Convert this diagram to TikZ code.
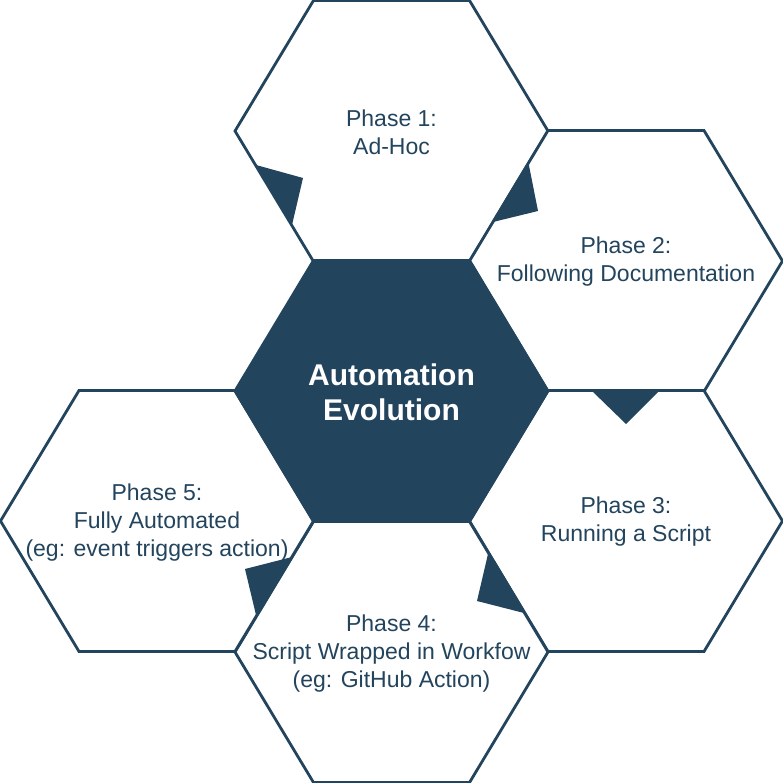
\documentclass[tikz,border=0pt]{standalone}
\usepackage{fontspec}
\setmainfont{Liberation Sans}
\definecolor{dk}{HTML}{23445D}
\tikzset{
  hexline/.style={draw=dk, line width=2.8pt, line join=miter, fill=white},
  hexdark/.style={draw=dk, line width=2.8pt, line join=miter, fill=dk},
  phasetext/.style={text=dk, align=center, inner sep=0pt, font=\fontsize{23}{28}\selectfont},
  centertext/.style={text=white, align=center, inner sep=0pt, font=\fontsize{30}{35}\selectfont\bfseries},
  tri/.style={fill=dk, draw=none}
}
\newcommand\hexpath[3]{%
  \path[#3] (#1-156.5,#2) -- (#1-78,#2-130.5) -- (#1+78,#2-130.5) -- (#1+156.5,#2) -- (#1+78,#2+130.5) -- (#1-78,#2+130.5) -- cycle;}
\begin{document}
\begin{tikzpicture}[x=1pt,y=-1pt]
\useasboundingbox (0,0) rectangle (783,783);
% hexagons
\hexpath{391.5}{131}{hexline}
\hexpath{626}{261}{hexline}
\hexpath{626}{521}{hexline}
\hexpath{391.5}{652}{hexline}
\hexpath{157}{521}{hexline}
\hexpath{391.5}{391}{hexdark}
% texts
\node[centertext] (c0) at (391.5,392) {Automation\\Evolution};
\node[phasetext] (p1) at (391.5,132) {Phase 1:\\Ad-Hoc};
\node[phasetext] (p2) at (626,262) {Phase 2:\\Following Documentation};
\node[phasetext] (p3) at (626,522) {Phase 3:\\Running a Script};
\node[phasetext] (p4) at (391.5,653.5) {Phase 4:\\Script Wrapped in Workfow\\(eg: GitHub Action)};
\node[phasetext] (p5) at (157,522.5) {Phase 5:\\Fully Automated\\(eg: event triggers action)};
% triangles
\fill[tri] (256,165) -- (303,178) -- (292,225) -- cycle;
\fill[tri] (528.5,163) -- (538,211) -- (493,222) -- cycle;
\fill[tri] (592,391) -- (659,391) -- (626,424) -- cycle;
\fill[tri] (488,554) -- (477,601) -- (524,613) -- cycle;
\fill[tri] (292,557) -- (245,569) -- (256,615) -- cycle;
\end{tikzpicture}
\end{document}
